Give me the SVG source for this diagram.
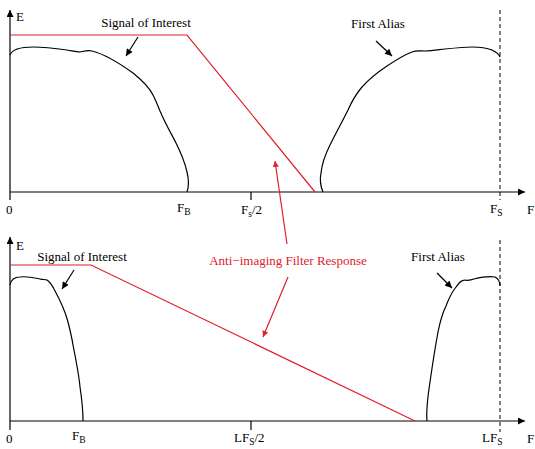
<svg xmlns="http://www.w3.org/2000/svg" width="535" height="449" viewBox="0 0 535 449">
<defs>
<marker id="ah" viewBox="0 0 10 10" refX="10" refY="5" markerWidth="8" markerHeight="7" orient="auto" markerUnits="userSpaceOnUse"><path d="M0,0 L10,5 L0,10 z" fill="#000"/></marker>
<marker id="ahr" viewBox="0 0 10 10" refX="10" refY="5" markerWidth="8" markerHeight="6" orient="auto" markerUnits="userSpaceOnUse"><path d="M0,0 L10,5 L0,10 z" fill="#e0202a"/></marker>
</defs>
<style>
.ax{stroke:#000;stroke-width:1.2;fill:none}
.cv{stroke:#000;stroke-width:1.2;fill:none}
.rd{stroke:#e0202a;stroke-width:1.2;fill:none}
.ds{stroke:#000;stroke-width:1;stroke-dasharray:4,3;fill:none}
.t{font-family:"Liberation Serif","Times New Roman",serif;font-size:13px;fill:#000}
.tr{font-family:"Liberation Serif","Times New Roman",serif;font-size:13px;fill:#e0202a}
.sb{font-size:9.5px}
</style>
<g id="top-panel">
<line class="ax" x1="10" y1="200" x2="10" y2="10" marker-end="url(#ah)"/>
<line class="ax" x1="10" y1="192" x2="525" y2="192" marker-end="url(#ah)"/>
<line class="ax" x1="251" y1="192" x2="251" y2="200"/>
<line class="ds" x1="500" y1="10" x2="500" y2="200"/>
<text class="t" x="16" y="21">E</text>
<text class="t" x="6" y="214">0</text>
<text class="t" x="177" y="212">F<tspan class="sb" dy="3">B</tspan></text>
<text class="t" x="241" y="214">F<tspan class="sb" dy="3">s</tspan><tspan dy="-3">/2</tspan></text>
<text class="t" x="490" y="213">F<tspan class="sb" dy="3">S</tspan></text>
<text class="t" x="527" y="214">F</text>
</g>
<g id="top-filter">
<polyline class="rd" points="10,35 187,35 315,192"/>
</g>
<g id="top-signal">
<path class="cv" d="M10,55 C12,50 20,47 33,47 C45,47 60,49 67,50 C73,51 77,52 80,52 C85,51 88,50 92,51 C100,53 115,60 133,73 C143,81 150,89 153,95 C156,101 158,106 160,111 C166,125 172,135 176,143 C181,153 185,163 187,172 C189,180 189,186 187,192"/>
<text class="t" x="146" y="27" text-anchor="middle">Signal of Interest</text>
<line class="cv" x1="138" y1="37" x2="126" y2="56" marker-end="url(#ah)"/>
</g>
<g id="top-alias">
<path class="cv" d="M323,192 C320,185 320,178 321,173 C322,163 325,155 330,145 C335,135 342,122 348,110 C352,101 356,94 362,87 C370,78 378,72 387,66 C396,60 404,55 412,52 C417,50 420,51 425,51 C432,51 437,50 445,49 C455,48 465,47 472,47 C480,47 487,48 492,50 C496,52 499,54 500,57"/>
<text class="t" x="378" y="28" text-anchor="middle">First Alias</text>
<line class="cv" x1="376" y1="41" x2="392" y2="56" marker-end="url(#ah)"/>
</g>
<g id="bottom-panel">
<line class="ax" x1="10" y1="430" x2="10" y2="237" marker-end="url(#ah)"/>
<line class="ax" x1="10" y1="421" x2="525" y2="421" marker-end="url(#ah)"/>
<line class="ax" x1="251" y1="421" x2="251" y2="430"/>
<line class="ds" x1="500" y1="240" x2="500" y2="432"/>
<text class="t" x="16" y="250">E</text>
<text class="t" x="6" y="443">0</text>
<text class="t" x="72" y="440">F<tspan class="sb" dy="3">B</tspan></text>
<text class="t" x="234" y="442">LF<tspan class="sb" dy="3">S</tspan><tspan dy="-3">/2</tspan></text>
<text class="t" x="482" y="442">LF<tspan class="sb" dy="3">S</tspan></text>
<text class="t" x="527" y="443">F</text>
</g>
<g id="bottom-filter">
<polyline class="rd" points="10,265 91,265 415,421"/>
</g>
<g id="bottom-signal">
<path class="cv" d="M10,285 C11,280 15,277 20,277 C28,276 35,278 40,279 C43,280 45,279 47,280 C50,282 52,285 54,289 C60,300 65,310 68,322 C70,330 72,338 73,345 C76,360 79,375 80,387 C82,400 83,412 83,421"/>
<text class="t" x="82" y="261" text-anchor="middle">Signal of Interest</text>
<line class="cv" x1="74" y1="270" x2="62" y2="289" marker-end="url(#ah)"/>
</g>
<g id="bottom-alias">
<path class="cv" d="M427,421 C426,410 428,395 430,382 C432,368 435,348 438,332 C440,322 442,314 446,306 C449,298 452,292 456,287 C459,283 461,280 465,280 C468,281 470,280 474,279 C482,277 490,276 495,277 C499,279 500,282 500,286"/>
<text class="t" x="438" y="261" text-anchor="middle">First Alias</text>
<line class="cv" x1="437" y1="273" x2="452" y2="288" marker-end="url(#ah)"/>
</g>
<g id="filter-label">
<text class="tr" x="288" y="265" text-anchor="middle">Anti−imaging Filter Response</text>
</g>
<g id="connectors">
<line class="rd" x1="287" y1="244" x2="275" y2="161" marker-end="url(#ahr)"/>
<line class="rd" x1="288" y1="277" x2="263" y2="337" marker-end="url(#ahr)"/>
</g>
</svg>
